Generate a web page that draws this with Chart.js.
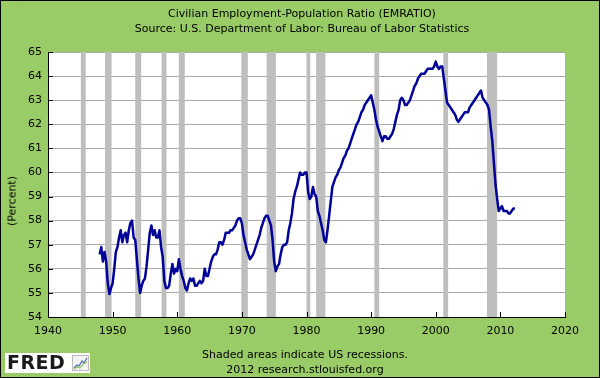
<!DOCTYPE html>
<html>
<head>
<meta charset="utf-8">
<script src="https://cdn.jsdelivr.net/npm/chart.js@4.4.0/dist/chart.umd.min.js"></script>
<style>
  html, body { margin: 0; padding: 0; }
  body { font-family: 'DejaVu Sans', Verdana, sans-serif; font-size: 11px; color: #000; }
  #wrap { position: relative; width: 600px; height: 378px; background: #99cc66; overflow: hidden; }
  #wrap canvas { position: absolute; left: 0; top: 0; }
  .frame { position: absolute; left: 0; top: 0; right: 0; bottom: 0; border: 1px solid #000; pointer-events: none; }
  .title { position: absolute; left: 2px; top: 6px; width: 600px; text-align: center; line-height: 15px; }
  .foot { position: absolute; left: 5px; top: 347px; width: 600px; text-align: center; line-height: 15px; }
  .ylab { position: absolute; left: 12px; top: 201px; transform: translate(-50%, -50%) rotate(-90deg); white-space: nowrap; }
  .logo { position: absolute; left: 5px; top: 353px; width: 85px; height: 20px; background: #fff; }
  .logo span { position: absolute; left: 2px; top: -2px; font: 900 19px 'DejaVu Sans', sans-serif; letter-spacing: 0.5px; color: #1a1a1a; }
  .logo svg { position: absolute; left: 67px; top: 2px; }
</style>
</head>
<body>
<div id="wrap">
  <canvas id="chart" width="600" height="378"></canvas>
  <div class="title">Civilian Employment-Population Ratio (EMRATIO)<br>Source: U.S. Department of Labor: Bureau of Labor Statistics</div>
  <div class="ylab">(Percent)</div>
  <div class="foot">Shaded areas indicate US recessions.<br>2012 research.stlouisfed.org</div>
  <div class="logo"><span>FRED</span>
    <svg width="17" height="16" viewBox="0 0 17 16">
      <rect x="0.5" y="0.5" width="16" height="15" fill="#f4f4f4" stroke="#bbb"/>
      <polyline points="2,13 5,10 7,11 10,6 12,8 15,3" fill="none" stroke="#4f6fb8" stroke-width="1.2"/>
      <polyline points="2,14 5,12 8,13 11,9 15,7" fill="none" stroke="#8cbf5a" stroke-width="1.2"/>
    </svg>
  </div>
  <div class="frame"></div>
</div>
<script>
// Civilian Employment-Population Ratio, quarterly readings (percent)
const START_YEAR = 1948;
const emratio = [
  56.6, 56.9, 56.3, 56.7,   // 1948
  56.3, 55.4, 54.95, 55.2,  // 1949
  55.4, 56.0, 56.7, 56.9,   // 1950
  57.3, 57.6, 57.1, 57.4,   // 1951
  57.5, 57.1, 57.6, 57.9,   // 1952
  58.0, 57.3, 57.2, 56.4,   // 1953
  55.6, 55.0, 55.3, 55.5,   // 1954
  55.6, 56.1, 56.8, 57.5,   // 1955
  57.8, 57.4, 57.6, 57.3,   // 1956
  57.3, 57.6, 56.9, 56.5,   // 1957
  55.5, 55.2, 55.2, 55.3,   // 1958
  55.8, 56.2, 55.8, 56.0,   // 1959
  55.9, 56.4, 56.0, 55.7,   // 1960
  55.5, 55.2, 55.1, 55.4,   // 1961
  55.6, 55.5, 55.6, 55.3,   // 1962
  55.3, 55.4, 55.5, 55.4,   // 1963
  55.5, 56.0, 55.7, 55.7,   // 1964
  56.0, 56.3, 56.5, 56.6,   // 1965
  56.6, 56.8, 57.1, 57.1,   // 1966
  57.0, 57.2, 57.5, 57.5,   // 1967
  57.5, 57.6, 57.6, 57.7,   // 1968
  57.8, 58.0, 58.1, 58.1,   // 1969
  57.9, 57.4, 57.1, 56.8,   // 1970
  56.6, 56.4, 56.5, 56.6,   // 1971
  56.8, 57.0, 57.2, 57.4,   // 1972
  57.7, 57.9, 58.1, 58.2,   // 1973
  58.2, 58.0, 57.8, 57.2,   // 1974
  56.3, 55.9, 56.1, 56.2,   // 1975
  56.6, 56.9, 57.0, 57.0,   // 1976
  57.1, 57.6, 57.9, 58.3,   // 1977
  58.9, 59.2, 59.4, 59.7,   // 1978
  60.0, 59.9, 59.9, 60.0,   // 1979
  60.0, 59.2, 58.9, 59.0,   // 1980
  59.4, 59.1, 59.0, 58.4,   // 1981
  58.2, 57.9, 57.6, 57.2,   // 1982
  57.1, 57.6, 58.2, 58.8,   // 1983
  59.4, 59.6, 59.8, 59.9,   // 1984
  60.1, 60.2, 60.4, 60.6,   // 1985
  60.7, 60.9, 61.0, 61.2,   // 1986
  61.4, 61.6, 61.8, 62.0,   // 1987
  62.1, 62.3, 62.5, 62.6,   // 1988
  62.8, 62.9, 63.0, 63.1,   // 1989
  63.2, 62.9, 62.6, 62.2,   // 1990
  61.9, 61.7, 61.5, 61.3,   // 1991
  61.5, 61.5, 61.4, 61.4,   // 1992
  61.5, 61.6, 61.8, 62.1,   // 1993
  62.4, 62.6, 63.0, 63.1,   // 1994
  63.0, 62.8, 62.8, 62.9,   // 1995
  63.0, 63.2, 63.4, 63.6,   // 1996
  63.7, 63.9, 64.0, 64.1,   // 1997
  64.1, 64.1, 64.2, 64.3,   // 1998
  64.3, 64.3, 64.3, 64.4,   // 1999
  64.6, 64.4, 64.3, 64.4,   // 2000
  64.4, 63.9, 63.4, 62.9,   // 2001
  62.8, 62.7, 62.6, 62.5,   // 2002
  62.4, 62.2, 62.1, 62.2,   // 2003
  62.3, 62.4, 62.5, 62.5,   // 2004
  62.5, 62.7, 62.8, 62.9,   // 2005
  63.0, 63.1, 63.2, 63.3,   // 2006
  63.4, 63.1, 63.0, 62.9,   // 2007
  62.8, 62.6, 61.9, 61.3,   // 2008
  60.4, 59.5, 58.9, 58.4,   // 2009
  58.5, 58.6, 58.4, 58.4,   // 2010
  58.4, 58.3, 58.3, 58.4,   // 2011
  58.5, 58.5                // 2012
];

// NBER recessions, as decimal years (start of first month .. end of last month)
const recessionStart = [1945.083, 1948.833, 1953.5, 1957.583, 1960.25, 1969.917, 1973.833, 1980.0, 1981.5, 1990.5, 2001.167, 2007.917];
const recessionEnd   = [1945.833, 1949.833, 1954.417, 1958.333, 1961.167, 1970.917, 1975.25, 1980.583, 1982.917, 1991.25, 2001.917, 2009.5];

const xTicks = { min: 1940, max: 2020, step: 10 };
const yTicks = { min: 54, max: 65, step: 1 };

const LINE = '#000099';
const SHADE = '#bebebe';
const GRID = '#aaaaaa';

const points = emratio.map((v, i) => ({ x: START_YEAR + i / 4, y: v }));

const plotBack = {
  id: 'plotBack',
  beforeDraw(chart) {
    const { ctx, chartArea: a } = chart;
    ctx.save();
    ctx.fillStyle = '#fff';
    ctx.fillRect(a.left, a.top, a.right - a.left, a.bottom - a.top);
    ctx.restore();
  },
};

const recessions = {
  id: 'recessions',
  beforeDatasetsDraw(chart) {
    const { ctx, chartArea: a, scales: { x } } = chart;
    ctx.save();
    ctx.fillStyle = SHADE;
    recessionStart.forEach((s, i) => {
      const x0 = x.getPixelForValue(s), x1 = x.getPixelForValue(recessionEnd[i]);
      ctx.fillRect(x0, a.top, x1 - x0, a.bottom - a.top);
    });
    ctx.restore();
  },
};

// short tick marks pointing into the plot
const innerTicks = {
  id: 'innerTicks',
  afterDraw(chart) {
    const { ctx, chartArea: a, scales: { x, y } } = chart;
    ctx.save();
    ctx.strokeStyle = '#000';
    ctx.lineWidth = 1;
    ctx.beginPath();
    x.ticks.forEach(t => {
      const px = Math.round(x.getPixelForValue(t.value)) + 0.5;
      ctx.moveTo(px, a.bottom); ctx.lineTo(px, a.bottom - 5);
    });
    y.ticks.forEach(t => {
      const py = Math.round(y.getPixelForValue(t.value)) + 0.5;
      ctx.moveTo(a.left, py); ctx.lineTo(a.left + 5, py);
    });
    ctx.stroke();
    ctx.restore();
  },
};

Chart.defaults.font.family = "'DejaVu Sans', Verdana, sans-serif";
Chart.defaults.font.size = 11;
Chart.defaults.color = '#000';

new Chart(document.getElementById('chart'), {
  type: 'line',
  data: {
    datasets: [{
      data: points, borderColor: LINE, borderWidth: 2.5, pointRadius: 0, tension: 0,
      borderJoinStyle: 'round', fill: false,
    }],
  },
  options: {
    responsive: false, animation: false, devicePixelRatio: 1,
    layout: { padding: { top: 52, left: 0, right: 35, bottom: 0 } },
    plugins: { legend: { display: false }, tooltip: { enabled: false } },
    scales: {
      x: {
        type: 'linear', min: xTicks.min, max: xTicks.max,
        afterFit: s => { s.height = 61; },
        ticks: { stepSize: xTicks.step, padding: 8, maxRotation: 0, callback: v => String(v) },
        grid: { drawOnChartArea: false, drawTicks: false },
        border: { display: true, color: '#000', width: 1 },
      },
      y: {
        min: yTicks.min, max: yTicks.max,
        afterFit: s => { s.width = 48; },
        ticks: { stepSize: yTicks.step, padding: 6 },
        grid: { color: GRID, drawTicks: false },
        border: { display: true, color: '#000', width: 1 },
      },
    },
  },
  plugins: [plotBack, recessions, innerTicks],
});
</script>
</body>
</html>
